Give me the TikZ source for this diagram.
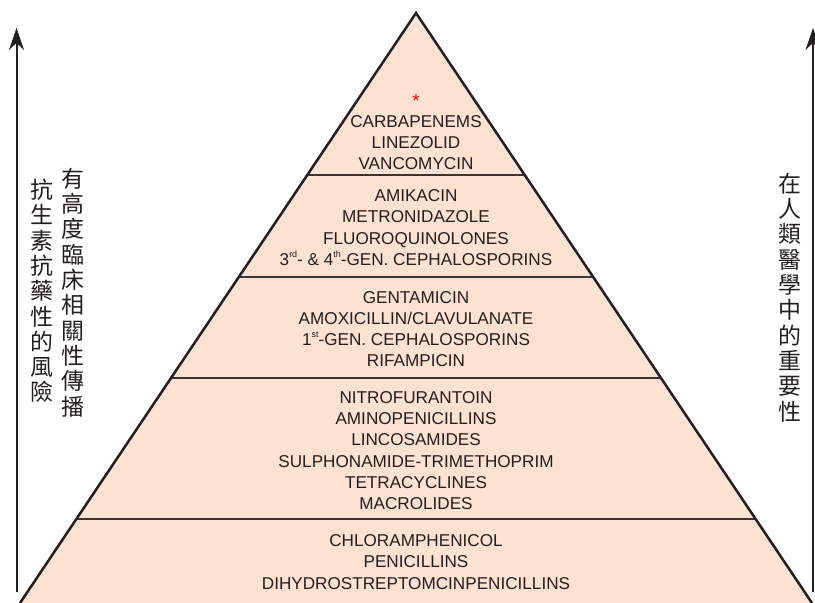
\documentclass[tikz,border=0pt]{standalone}
\usepackage{fontspec}
\setmainfont{Liberation Sans}
\newfontfamily\cjk{Noto Sans CJK TC}
\usepackage{tikz}
\usetikzlibrary{calc}
\usetikzlibrary{arrows.meta}
\definecolor{peach}{RGB}{253,225,209}
\definecolor{ink}{RGB}{35,31,32}
\newcommand{\ord}[1]{\raisebox{0.45em}{\fontsize{9}{9}\selectfont #1}}
\tikzstyle{drug}=[align=center,text=ink,inner sep=0,
                font=\fontsize{17.2}{21.3}\selectfont]
\tikzstyle{side label}=[align=center,text=ink,inner sep=0,
                font=\cjk\fontsize{23}{25.4}\selectfont]
\tikzstyle{axis}=[draw=ink,line width=2bp,-{Stealth[length=22bp,width=15bp]}]
\tikzstyle{band}=[draw=ink!90,line width=2bp]

\begin{document}
\begin{tikzpicture}[x=1bp,y=-1bp]
\useasboundingbox (0,0) rectangle (815,603);
\coordinate (apex) at (416,13);
\coordinate (bl) at (20,603);
\coordinate (br) at (812,603);
\fill[peach] (apex) -- (br) -- (bl) -- cycle;
\foreach \t in {0.2746,0.4475,0.6186,0.8576}
\draw[band] ($(apex)!\t!(bl)$) -- ($(apex)!\t!(br)$);
\draw[line width=2.5bp,draw=ink] (bl) -- (apex) -- (br);
% tiers, top to bottom
\node at (416,101)[text=red,inner sep=0,font=\fontsize{19}{19}\selectfont] (star) {*};
\node[drug] (tier1) at (416,142.5) {CARBAPENEMS\\LINEZOLID\\VANCOMYCIN};
\node[drug] (tier2) at (416,227.5) {AMIKACIN\\METRONIDAZOLE\\FLUOROQUINOLONES\\
  3\ord{rd}- \& 4\ord{th}-GEN. CEPHALOSPORINS};
\node[drug] (tier3) at (416,329) {GENTAMICIN\\AMOXICILLIN/CLAVULANATE\\
  1\ord{st}-GEN. CEPHALOSPORINS\\RIFAMPICIN};
\node[drug] (tier4) at (416,450.5) {NITROFURANTOIN\\AMINOPENICILLINS\\LINCOSAMIDES\\
  SULPHONAMIDE-TRIMETHOPRIM\\TETRACYCLINES\\MACROLIDES};
\node[drug] (tier5) at (416,562) {CHLORAMPHENICOL\\PENICILLINS\\DIHYDROSTREPTOMCINPENICILLINS};
% side arrows
\coordinate (riskfoot) at (16.5,592);
\coordinate (risktip) at (16.5,28);
\coordinate (valuefoot) at (813,592);
\coordinate (valuetip) at (813,28);
\draw[axis] (riskfoot) -- (risktip);
\draw[axis] (valuefoot) -- (valuetip);
\node[side label] (risk) at (42,291) {抗\\生\\素\\抗\\藥\\性\\的\\風\\險};
\node[side label] (spread) at (73,292.5) {有\\高\\度\\臨\\床\\相\\關\\性\\傳\\播};
\node[side label] (value) at (790,297.5) {在\\人\\類\\醫\\學\\中\\的\\重\\要\\性};
\end{tikzpicture}
\end{document}
